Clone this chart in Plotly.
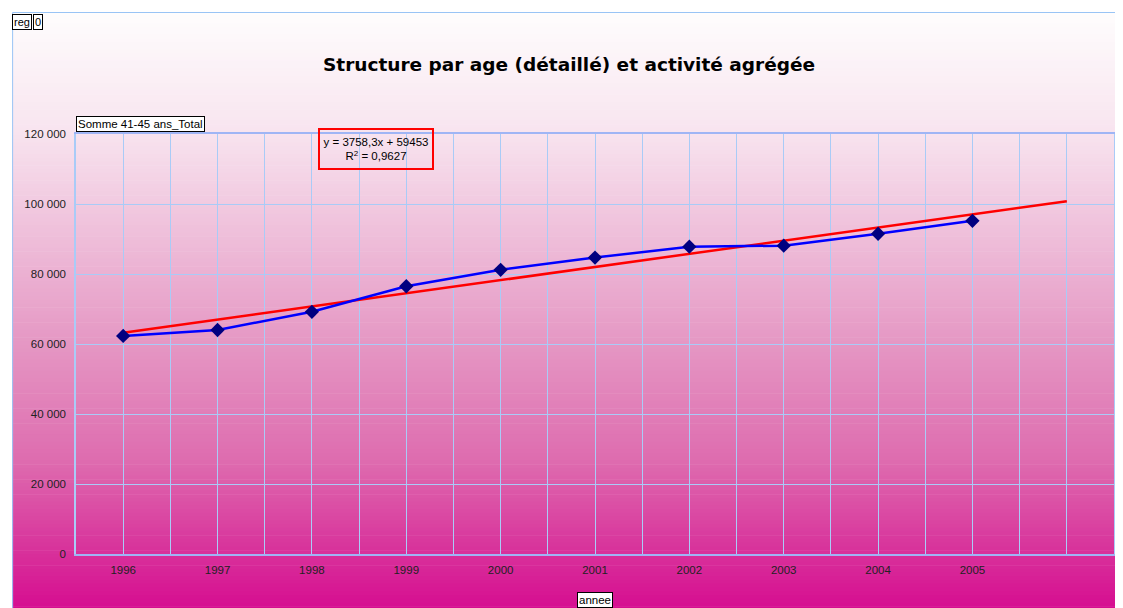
import plotly.graph_objects as go

# ---- data ----
years = ["1996", "1997", "1998", "1999", "2000", "2001", "2002", "2003", "2004", "2005"]
values = [62300, 64000, 69200, 76500, 81200, 84700, 87800, 88100, 91500, 95200]
trend_slope = 3758.3
trend_intercept = 59453
trend_r2 = 0.9627
n_trend_periods = 11
y_ticks = [0, 20000, 40000, 60000, 80000, 100000, 120000]

title_text = "Structure par age (détaillé) et activité agrégée"
series_label = "Somme 41-45 ans_Total"
x_label = "annee"

# ---- geometry (page pixels; the page body has an 8px margin) ----
OFF = 8
PW, PH = 1123, 608
W, H = PW - OFF, PH - OFF
L, R, T, B = 76 - OFF, 7, 134 - OFF, 54
pw, ph = W - L - R, H - T - B


def px_x(x):
    return (x - OFF - L) / pw


def px_y(y):
    return (H - B - (y - OFF)) / ph


x_idx = list(range(len(years)))
trend_x = list(range(n_trend_periods))
trend_y = [trend_slope * (i + 1) + trend_intercept for i in trend_x]

fig = go.Figure()

fig.add_trace(go.Scatter(
    x=trend_x, y=trend_y, mode="lines",
    line=dict(color="#ff0000", width=2.5), hoverinfo="skip", showlegend=False))
fig.add_trace(go.Scatter(
    x=x_idx, y=values, mode="lines+markers",
    line=dict(color="#0000ff", width=2.5),
    marker=dict(symbol="diamond", size=11, color="#000080"),
    showlegend=False))

# ---- gradient background bands ----
stops = [(0.0, (254, 253, 253)), (0.2, (248, 228, 239)), (0.55, (229, 152, 196)),
         (0.75, (222, 108, 175)), (0.9, (216, 50, 155)), (1.0, (214, 12, 144))]


def col_at(t):
    for (t0, c0), (t1, c1) in zip(stops[:-1], stops[1:]):
        if t0 <= t <= t1:
            f = (t - t0) / (t1 - t0) if t1 > t0 else 0
            return "rgb(%d,%d,%d)" % tuple(round(a + (b - a) * f) for a, b in zip(c0, c1))
    return "rgb(%d,%d,%d)" % stops[-1][1]


shapes = []
top_px, bot_px = 12, PH + 2
nb = 160
step = (bot_px - top_px) / nb
for i in range(nb):
    y0 = top_px + i * step
    y1 = y0 + step + 0.6
    t = (i + 0.5) / nb
    shapes.append(dict(type="rect", xref="paper", yref="paper",
                       x0=px_x(12), x1=px_x(PW + 4), y0=px_y(y1), y1=px_y(y0),
                       fillcolor=col_at(t), line=dict(width=0), layer="below"))
# outer chart border
shapes.append(dict(type="rect", xref="paper", yref="paper",
                   x0=px_x(12.5), x1=px_x(PW + 8), y0=px_y(PH + 8), y1=px_y(12.5),
                   line=dict(color="#99c4f5", width=1), fillcolor="rgba(0,0,0,0)", layer="below"))

eq_text = ("y = " + f"{trend_slope:.1f}".replace(".", ",") + "x + " + f"{trend_intercept:d}"
           + "<br>R<sup>2</sup> = " + f"{trend_r2:.4f}".replace(".", ","))

FONT = "Liberation Sans, Arial"
box = dict(bgcolor="white", bordercolor="black", borderwidth=1, borderpad=1, showarrow=False,
           xref="paper", yref="paper")
annotations = [
    dict(text="reg", x=px_x(12), y=px_y(14), xanchor="left", yanchor="top",
         font=dict(size=11, color="#000", family=FONT), **box),
    dict(text="0", x=px_x(33), y=px_y(14), xanchor="left", yanchor="top",
         font=dict(size=11, color="#000", family=FONT), **box),
    dict(text=series_label, x=px_x(76), y=px_y(132), xanchor="left", yanchor="bottom",
         font=dict(size=11.5, color="#000", family=FONT), **box),
    dict(text=x_label, x=px_x(595.5), y=px_y(592), xanchor="center", yanchor="top",
         font=dict(size=11.5, color="#000", family=FONT), **box),
    dict(text=eq_text, xref="paper", yref="paper", x=px_x(377), y=px_y(148.5), xanchor="center", yanchor="middle",
         showarrow=False, font=dict(size=11.5, color="#000", family=FONT),
         bgcolor="rgba(0,0,0,0)", bordercolor="#ff0000", borderwidth=2, borderpad=3, width=106, height=32),
    dict(text="<b>" + title_text + "</b>", xref="paper", yref="paper", x=px_x(570), y=px_y(65),
         xanchor="center", yanchor="middle", showarrow=False,
         font=dict(size=18.5, color="#000", family="DejaVu Sans, Verdana")),
]

grid_col = "#a9cbf7"

fig.update_layout(
    width=W, height=H,
    margin=dict(l=L, r=R, t=T, b=B),
    paper_bgcolor="white", plot_bgcolor="rgba(0,0,0,0)",
    separators=", ",
    font=dict(family=FONT, size=11, color="#222"),
    shapes=shapes, annotations=annotations,
    xaxis=dict(range=[-0.5, n_trend_periods - 0.5], tickmode="array", tickvals=x_idx, ticktext=years,
               showgrid=True, gridcolor=grid_col, gridwidth=1, zeroline=False,
               minor=dict(tick0=-0.5, dtick=0.5, showgrid=True, gridcolor=grid_col, gridwidth=1, ticks=""),
               showline=True, linecolor="#9fb5f5", linewidth=2, mirror=True,
               ticks="outside", ticklen=4, tickcolor="rgba(0,0,0,0)", tickfont=dict(size=11.5, color="#222")),
    yaxis=dict(range=[0, 120000], tickmode="array", tickvals=y_ticks, tickformat=",d",
               showgrid=True, gridcolor=grid_col, gridwidth=1, zeroline=False,
               showline=True, linecolor="#a9cbf7", linewidth=1.5, mirror=True,
               ticks="outside", ticklen=6, tickcolor="rgba(0,0,0,0)", tickfont=dict(size=11.5, color="#222")),
)

fig.write_html("out.html")
